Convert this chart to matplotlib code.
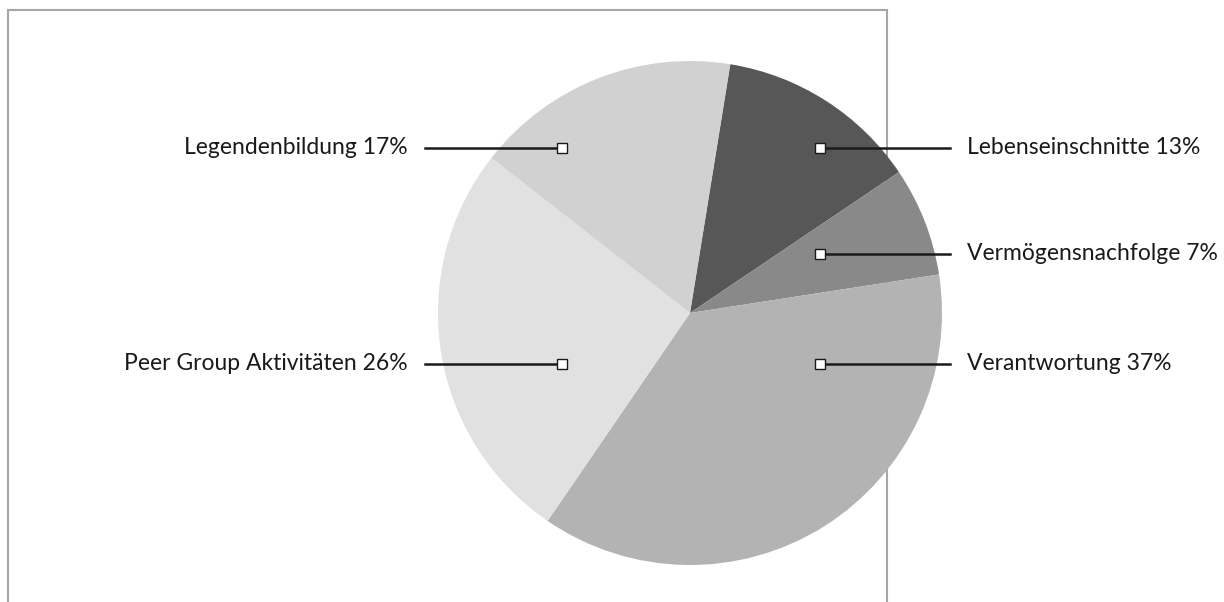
import matplotlib.pyplot as plt

labels = ['Lebenseinschnitte', 'Vermögensnachfolge', 'Verantwortung',
          'Peer Group Aktivitäten', 'Legendenbildung']
shares = [13, 7, 37, 26, 17]
colors = ['#575757', '#898989', '#b3b3b3', '#e1e1e1', '#d1d1d1']

plt.rcParams['font.family'] = ['Lato', 'DejaVu Sans']

W, H = 1224, 602
fig = plt.figure(figsize=(W / 100, H / 100), dpi=100)
ax = fig.add_axes([0, 0, 1, 1])

# plot-area frame (open at the bottom)
ax.plot([7.5, 7.5, 887, 887], [0, H - 10, H - 10, 0], color='#a6a6a6',
        lw=1.5, zorder=0, solid_joinstyle='miter')

cx, cy, r = 690, H - 313, 252
ax.pie(shares, colors=colors, startangle=80.8, counterclock=False,
       center=(cx, cy), radius=r, frame=True,
       wedgeprops=dict(linewidth=0, zorder=1))
ax.set_xlim(0, W)
ax.set_ylim(0, H)
ax.axis('off')

# label anchors (offsets from centre, in px): marker, text side
anchors = {
    'Lebenseinschnitte': (130, 165, 1),
    'Vermögensnachfolge': (130, 59, 1),
    'Verantwortung': (130, -51, 1),
    'Peer Group Aktivitäten': (-128, -51, -1),
    'Legendenbildung': (-128, 165, -1),
}
for lab, val in zip(labels, shares):
    mx, my, side = anchors[lab]
    x0, y0 = cx + mx, cy + my
    x1 = cx + (260 if side > 0 else -265)
    ax.plot([x0, x1], [y0, y0], color='#1a1a1a', lw=1.8, zorder=3)
    ax.plot([x0], [y0], marker='s', ms=7.5, mfc='white', mec='#1a1a1a',
            mew=1.0, zorder=4)
    tx = x1 + (17 if side > 0 else -17)
    ax.text(tx, y0 + 1, f'{lab} {val}%', ha='left' if side > 0 else 'right',
            va='center', fontsize=16.5, color='#1a1a1a')

fig.savefig('out.png', dpi=100)
